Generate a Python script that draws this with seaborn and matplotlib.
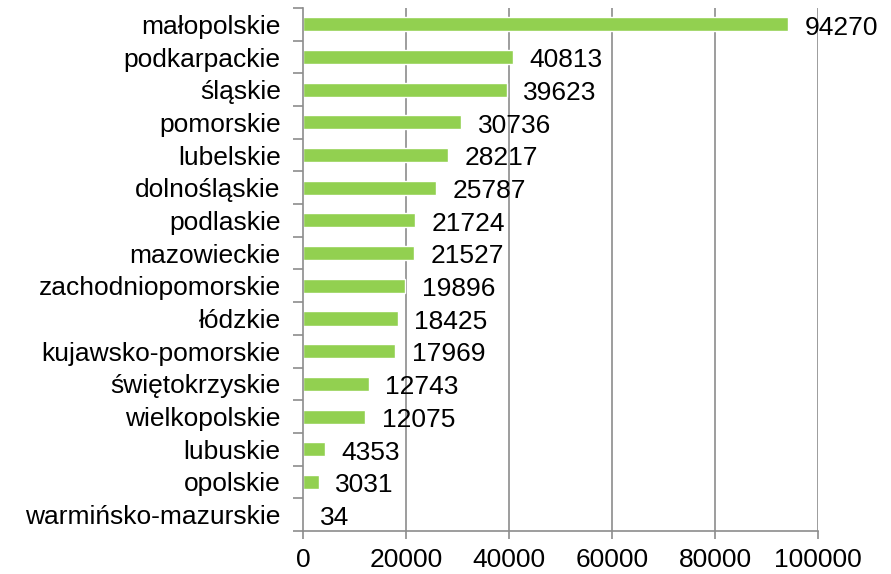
import pandas as pd
import matplotlib
matplotlib.use('Agg')
import matplotlib.pyplot as plt
import seaborn as sns
import numpy as np

# Data
regions = ['małopolskie', 'podkarpackie', 'śląskie', 'pomorskie', 'lubelskie',
           'dolnośląskie', 'podlaskie', 'mazowieckie', 'zachodniopomorskie',
           'łódzkie', 'kujawsko-pomorskie', 'świętokrzyskie', 'wielkopolskie',
           'lubuskie', 'opolskie', 'warmińsko-mazurskie']
counts = [94270, 40813, 39623, 30736, 28217, 25787, 21724, 21527, 19896,
          18425, 17969, 12743, 12075, 4353, 3031, 34]
x_ticks = [0, 20000, 40000, 60000, 80000, 100000]

df = pd.DataFrame({'region': regions, 'count': counts})

sns.set_style('white')
plt.rcParams['font.family'] = ['Liberation Sans', 'DejaVu Sans']
plt.rcParams['text.color'] = 'black'
plt.rcParams['xtick.labelcolor'] = 'black'
plt.rcParams['ytick.labelcolor'] = 'black'

FS = 19

fig = plt.figure(figsize=(8.91, 5.74), dpi=100)
ax = fig.add_axes([0.340, 0.075, 0.578, 0.911])

sns.barplot(data=df, x='count', y='region', color='#92D050', saturation=1,
            width=0.43, ax=ax)

grid_color = '#8c8c8c'
ax.set_xlim(0, 100000)
ax.set_ylim(len(regions) - 0.5, -0.5)
ax.set_xticks(x_ticks)
ax.set_xticklabels([str(t) for t in x_ticks], fontsize=FS)
ax.tick_params(axis='y', labelsize=FS, length=0, pad=16)
ax.tick_params(axis='x', length=6, width=1.2, color=grid_color, pad=6)
ax.set_yticks(np.arange(-0.5, len(regions), 1), minor=True)
ax.tick_params(axis='y', which='minor', length=7, width=1.2, color=grid_color, left=True)
ax.tick_params(axis='x', bottom=True)

for t in x_ticks[1:]:
    ax.axvline(t, color=grid_color, lw=1.2, zorder=0)

for s in ['top', 'right']:
    ax.spines[s].set_visible(False)
for s in ['left', 'bottom']:
    ax.spines[s].set_color(grid_color)
    ax.spines[s].set_linewidth(1.2)

ax.set_xlabel('')
ax.set_ylabel('')

for i, v in enumerate(counts):
    ax.text(v + 3200, i + 0.1, str(v), va='center', ha='left', fontsize=FS,
            color='black')

fig.savefig('out.png', dpi=100)
